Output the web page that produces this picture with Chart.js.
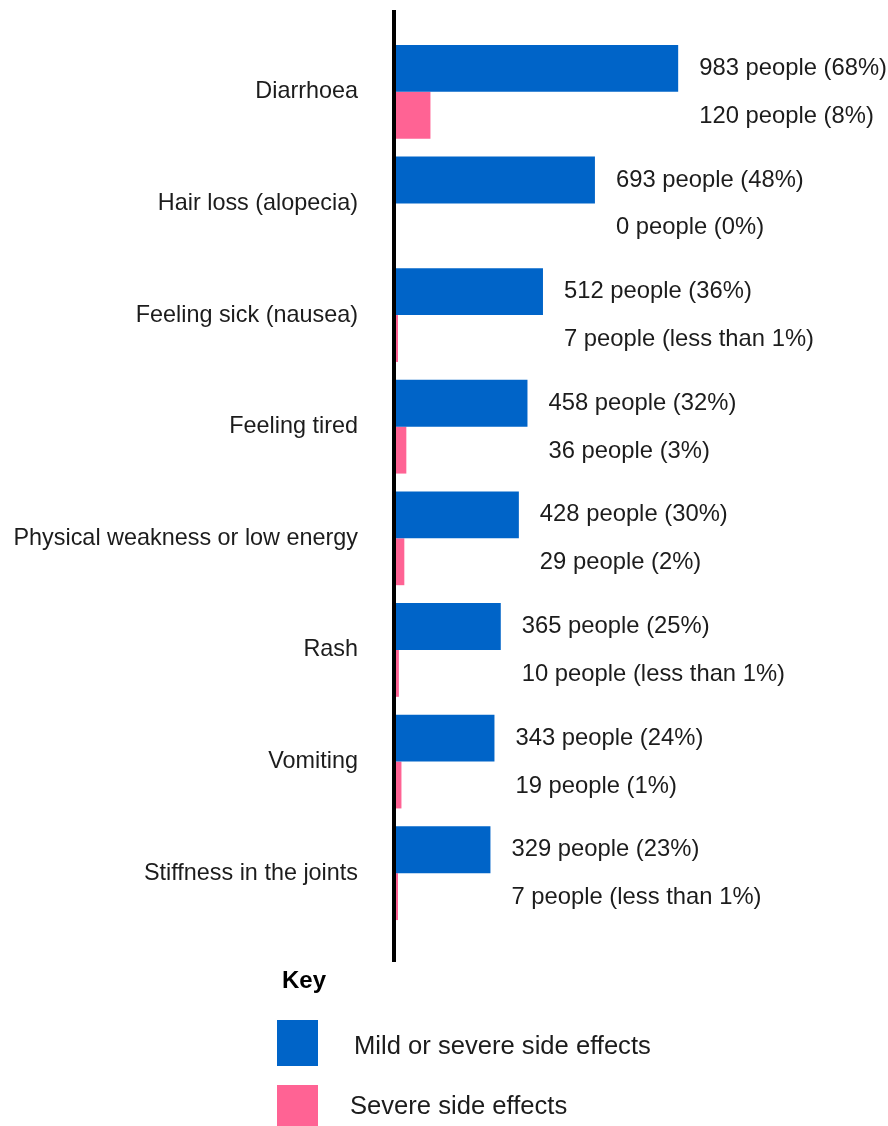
<!DOCTYPE html>
<html>
<head>
<meta charset="utf-8">
<script src="https://cdn.jsdelivr.net/npm/chart.js@4/dist/chart.umd.min.js"></script>
<style>
  html, body { margin: 0; padding: 0; background: #ffffff; }
  #wrap { width: 888px; height: 1126px; position: relative; }
</style>
</head>
<body>
<div id="wrap"><canvas id="c" width="888" height="1126"></canvas></div>
<script>
const categories = [
  "Diarrhoea",
  "Hair loss (alopecia)",
  "Feeling sick (nausea)",
  "Feeling tired",
  "Physical weakness or low energy",
  "Rash",
  "Vomiting",
  "Stiffness in the joints"
];
const mildValues = [983, 693, 512, 458, 428, 365, 343, 329];
const mildPercents = ["68%", "48%", "36%", "32%", "30%", "25%", "24%", "23%"];
const severeValues = [120, 0, 7, 36, 29, 10, 19, 7];
const severePercents = ["8%", "0%", "less than 1%", "3%", "2%", "less than 1%", "1%", "less than 1%"];
const seriesNames = ["Mild or severe side effects", "Severe side effects"];
const legendTitle = "Key";

const BLUE = "#0064C8";
const PINK = "#FF6394";
const TEXT = "#1c1c1c";
const FONT = "'Liberation Sans', Arial, sans-serif";

const mildLabels = mildValues.map((v, i) => v + " people (" + mildPercents[i] + ")");
const severeLabels = severeValues.map((v, i) => v + " people (" + severePercents[i] + ")");

const overlay = {
  id: "overlay",
  afterDatasetsDraw(chart) {
    const ctx = chart.ctx;
    const m0 = chart.getDatasetMeta(0);
    const m1 = chart.getDatasetMeta(1);
    ctx.save();
    // axis line
    ctx.strokeStyle = "#000";
    ctx.lineWidth = 4;
    ctx.beginPath();
    ctx.moveTo(394, 10);
    ctx.lineTo(394, 962);
    ctx.stroke();
    // value labels
    ctx.fillStyle = TEXT;
    ctx.font = "23.8px " + FONT;
    ctx.textBaseline = "middle";
    ctx.textAlign = "left";
    m0.data.forEach((bar, i) => {
      const x = bar.x + 21;
      ctx.fillText(mildLabels[i], x, bar.y);
      ctx.fillText(severeLabels[i], x, m1.data[i].y + 1);
    });
    // legend
    ctx.font = "bold 24px " + FONT;
    ctx.fillStyle = "#000";
    ctx.fillText(legendTitle, 282, 981);
    ctx.fillStyle = BLUE;
    ctx.fillRect(277, 1020, 41, 46);
    ctx.fillStyle = PINK;
    ctx.fillRect(277, 1085, 41, 46);
    ctx.fillStyle = TEXT;
    ctx.font = "25.6px " + FONT;
    ctx.fillText(seriesNames[0], 354, 1047);
    ctx.fillText(seriesNames[1], 350, 1107);
    ctx.restore();
  }
};

new Chart(document.getElementById("c"), {
  type: "bar",
  data: {
    labels: categories,
    datasets: [
      { label: seriesNames[0], data: mildValues, backgroundColor: BLUE, borderWidth: 0 },
      { label: seriesNames[1], data: severeValues, backgroundColor: PINK, borderWidth: 0 }
    ]
  },
  options: {
    indexAxis: "y",
    responsive: false,
    animation: false,
    devicePixelRatio: 1,
    layout: { padding: { top: 36, bottom: 197, left: 0, right: 4 } },
    datasets: { bar: { barPercentage: 1, categoryPercentage: 0.84 } },
    plugins: { legend: { display: false }, tooltip: { enabled: false } },
    scales: {
      x: { display: false, min: 0, max: 1700 },
      y: {
        afterFit(scale) {
          scale.width = 396;
          scale.paddingTop = 0;
          scale.paddingBottom = 0;
        },
        grid: { display: false, drawTicks: false },
        border: { display: false },
        ticks: { color: TEXT, font: { family: FONT, size: 23.4 }, padding: 38, autoSkip: false }
      }
    }
  },
  plugins: [overlay]
});
</script>
</body>
</html>
